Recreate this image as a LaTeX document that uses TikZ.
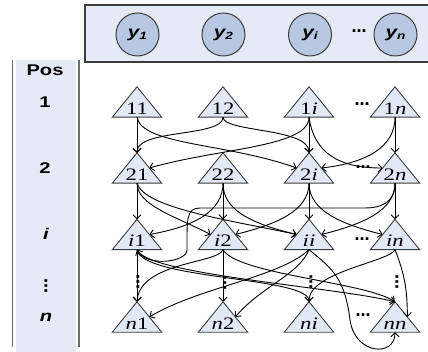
\documentclass[tikz,border=0pt]{standalone}
\usepackage{fontspec}
\setmainfont{Liberation Serif}
\newfontfamily\sansf{Liberation Sans}
\newfontfamily\dotf{DejaVu Sans}
\usetikzlibrary{arrows.meta,calc}
\newcommand\xstretch[1]{\scalebox{1.3}[1]{#1}}
\definecolor{boxfill}{RGB}{228,235,246}
\definecolor{circfill}{RGB}{185,200,226}
\definecolor{trifill}{RGB}{226,233,246}
\definecolor{bordc}{RGB}{60,60,60}
\definecolor{colline}{RGB}{110,110,110}
\tikzset{
  tbox/.style={rectangle, minimum width=49pt, minimum height=30pt, inner sep=0pt, draw=none},
  tri/.style={draw=bordc, fill=trifill, line width=0.9pt, line join=miter},
  lbl/.style={anchor=base, inner sep=0pt, font=\fontsize{17.5}{18}\selectfont},
  poslbl/.style={inner sep=0pt, font=\sansf\bfseries\fontsize{15.5}{16}\selectfont},
  ycirc/.style={circle, draw=bordc, fill=circfill, line width=1pt, minimum size=43pt, inner sep=0pt,
    font=\sansf\bfseries\itshape\fontsize{16}{16}\selectfont},
  dotsn/.style={inner sep=0pt, font=\dotf\bfseries\fontsize{15}{15}\selectfont},
  e/.style={draw, line width=0.9pt, -{Straight Barb[length=4pt,width=8pt]}},
}
\begin{document}
\begin{tikzpicture}[x=1pt,y=-1pt]
\useasboundingbox (0,0) rectangle (428,352);
% top box with outputs
\draw[fill=boxfill, draw=bordc, line width=1.2pt] (85,5) rectangle (440,62);
\node[ycirc] (y1) at (137.5,34.5) {\xstretch{y\raisebox{-2.5pt}{\fontsize{10.5}{10}\selectfont 1}}};
\node[ycirc] (y2) at (223.5,34.5) {\xstretch{y\raisebox{-2.5pt}{\fontsize{10.5}{10}\selectfont 2}}};
\node[ycirc] (yi) at (310,34.5) {\xstretch{y\raisebox{-2.5pt}{\fontsize{10.5}{10}\selectfont i}}};
\node[ycirc] (yn) at (395.5,34.5) {\xstretch{y\raisebox{-2.5pt}{\fontsize{10.5}{10}\selectfont n}}};
\node[dotsn] (dy) at (359,31) {…};
% position column
\fill[boxfill] (16,60) rectangle (76,352);
\draw[colline, line width=1.5pt] (12.5,60) -- (12.5,347);
\draw[colline, line width=1.5pt] (79,60) -- (79,347);
\node[poslbl] (pPos) at (45,70) {\xstretch{Pos}};
\node[poslbl] (p1) at (45,102) {\xstretch{1}};
\node[poslbl] (p2) at (45,168) {\xstretch{2}};
\node[poslbl] (pi) at (46,234) {\xstretch{\itshape i}};
\node[dotsn, rotate=90] (pdots) at (46,286) {…};
\node[poslbl] (pn) at (46,317) {\xstretch{\itshape n}};
% triangle nodes
\node[tbox] (a11) at (137,102) {};
\node[tbox] (a12) at (223,102) {};
\node[tbox] (a1i) at (309,102) {};
\node[tbox] (a1n) at (395,102) {};
\node[tbox] (a21) at (137,168) {};
\node[tbox] (a22) at (223,168) {};
\node[tbox] (a2i) at (309,168) {};
\node[tbox] (a2n) at (395,168) {};
\node[tbox] (ai1) at (137,234.5) {};
\node[tbox] (ai2) at (223,234.5) {};
\node[tbox] (aii) at (309,234.5) {};
\node[tbox] (ain) at (395,234.5) {};
\node[tbox] (an1) at (137,317) {};
\node[tbox] (an2) at (223,317) {};
\node[tbox] (ani) at (309,317) {};
\node[tbox] (ann) at (395,317) {};
\foreach \n in {a11,a12,a1i,a1n,a21,a22,a2i,a2n,ai1,ai2,aii,ain,an1,an2,ani,ann}{
  \draw[tri] (\n.south west) -- (\n.north) -- (\n.south east) -- cycle;
  \coordinate (\n-l) at ($(\n.south west)!.5!(\n.north)$);
  \coordinate (\n-r) at ($(\n.south east)!.5!(\n.north)$);
}
% labels
\node[lbl] (l11) at ($(a11.south)+(0,-3)$) {\xstretch{11}};
\node[lbl] (l12) at ($(a12.south)+(0,-3)$) {\xstretch{12}};
\node[lbl] (l1i) at ($(a1i.south)+(0,-3)$) {\xstretch{1\textit{i}}};
\node[lbl] (l1n) at ($(a1n.south)+(0,-3)$) {\xstretch{1\textit{n}}};
\node[lbl] (l21) at ($(a21.south)+(0,-3)$) {\xstretch{21}};
\node[lbl] (l22) at ($(a22.south)+(0,-3)$) {\xstretch{22}};
\node[lbl] (l2i) at ($(a2i.south)+(0,-3)$) {\xstretch{2\textit{i}}};
\node[lbl] (l2n) at ($(a2n.south)+(0,-3)$) {\xstretch{2\textit{n}}};
\node[lbl] (li1) at ($(ai1.south)+(0,-3)$) {\xstretch{\textit{i}1}};
\node[lbl] (li2) at ($(ai2.south)+(0,-3)$) {\xstretch{\textit{i}2}};
\node[lbl] (lii) at ($(aii.south)+(0,-3)$) {\xstretch{\textit{ii}}};
\node[lbl] (lin) at ($(ain.south)+(0,-3)$) {\xstretch{\textit{in}}};
\node[lbl] (ln1) at ($(an1.south)+(0,-3)$) {\xstretch{\textit{n}1}};
\node[lbl] (ln2) at ($(an2.south)+(0,-3)$) {\xstretch{\textit{n}2}};
\node[lbl] (lni) at ($(ani.south)+(0,-3)$) {\xstretch{\textit{ni}}};
\node[lbl] (lnn) at ($(ann.south)+(0,-3)$) {\xstretch{\textit{nn}}};
% row 1 -> row 2
\draw[e] (a11.south) -- (a21.north);
\draw[e] (a12.south) .. controls +(0,20) and +(0,-24) .. (a21.north);
\draw[e] (a11.south) .. controls +(5,28) and +(-70,-25) .. (a2i-l);
\draw[e] (a12.south) .. controls +(0,15) and +(0,-25) .. (a2i.north);
\draw[e] (a1i.south) -- (a2i.north);
\draw[e] (a1i.south) .. controls +(0,30) and +(70,-20) .. (a21-r);
\draw[e] (a1i.south) .. controls +(5,35) and +(-45,0) .. (a2n-l);
\draw[e] (a1n.south) -- (a2n.north);
\draw[e] (a1n.south) .. controls +(0,30) and +(45,-5) .. (a2i-r);
% row 2 -> row i
\draw[e] (a21.south) -- (ai1.north);
\draw[e] (a21.south) .. controls +(0,22) and +(-35,-18) .. (ai2-l);
\draw[e] (a21.south) .. controls +(8,25) and +(-70,-15) .. (aii-l);
\draw[e] (a22.south) -- (ai2.north);
\draw[e] (a22.south) .. controls +(0,28) and +(45,-8) .. (ai1-r);
\draw[e] (a22.south) .. controls +(0,25) and +(-50,-12) .. (aii-l);
\draw[e] (a2i.south) -- (aii.north);
\draw[e] (a2i.south) .. controls +(0,28) and +(40,-10) .. (ai2-r);
\draw[e] (a2i.south) .. controls +(0,28) and +(-40,-10) .. (ain-l);
\draw[e] (a2n.south) -- (ain.north);
\draw[e] (a2n.south) .. controls +(0,28) and +(40,-10) .. (aii-r);
\draw[e] (a2n.south) .. controls +(0,20) and +(15,0) .. (365,208) -- (200,208)
  .. controls +(-14,0) and +(0,-30) .. (187,250) .. controls +(0,12) and +(10,18) .. (ai1.south);
% row i -> row n
\draw[e] (ai1.south) -- (an1.north);
\draw[e] (ai2.south) -- (an2.north);
\draw[e] (ai2.south) .. controls +(-5,14) and +(3,-40) .. (an1.north);
\draw[e] (ai1.south) .. controls +(10,25) and +(-60,-15) .. (ann.north);
\draw[e] (ai1.south) .. controls +(5,30) and +(0,-25) .. (ani.north);
\draw[e] (ai2.south) .. controls +(15,25) and +(-30,-20) .. (ann.north);
\draw[e] (aii.south) .. controls +(-10,25) and +(25,-30) .. (an2-r);
\draw[e] (aii.south) .. controls +(-30,28) and +(50,-30) .. (an1-r);
\draw[e] (aii.south) .. controls +(25,20) and +(-5,-40) .. (350,320) .. controls +(5,35) and +(0,25) .. (ann.south);
\draw[e] (ain.south) .. controls +(-5,12) and +(0,-30) .. (ani.north);
\draw[e] (ain.south) .. controls +(10,25) and +(0,-25) .. (ann-r);
% ellipsis marks
\node[dotsn] (d1) at (362,104) {…};
\node[dotsn] (d2) at (363,167) {…};
\node[dotsn] (d3) at (362,239) {…};
\node[dotsn] (d4) at (363,315) {…};
\node[dotsn, rotate=90] (v1) at (138,282) {…};
\node[dotsn, rotate=90] (v2) at (225,283) {…};
\node[dotsn, rotate=90] (v3) at (311,282) {…};
\node[dotsn, rotate=90] (v4) at (397,282) {…};
\end{tikzpicture}
\end{document}
